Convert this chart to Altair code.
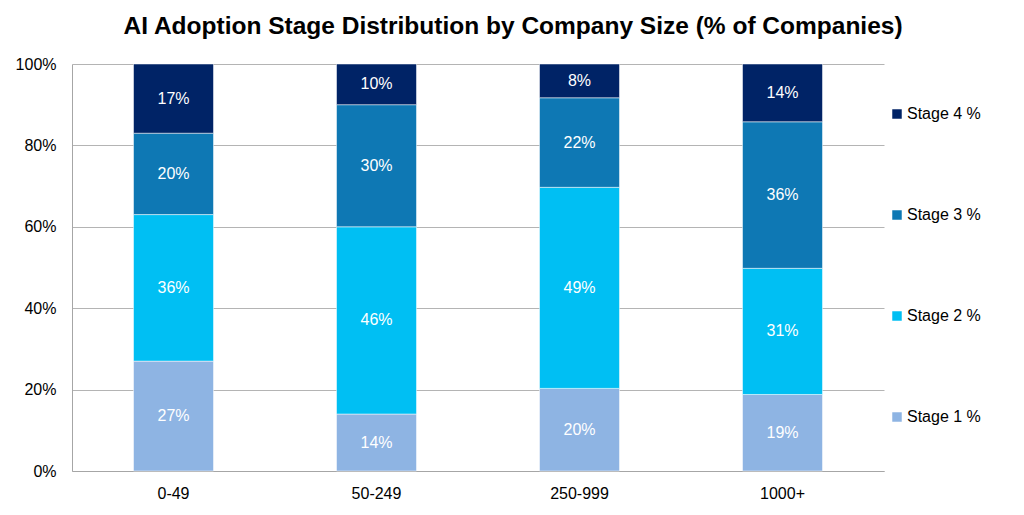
import altair as alt
import pandas as pd

sizes = ["0-49", "50-249", "250-999", "1000+"]
stages = ["Stage 1 %", "Stage 2 %", "Stage 3 %", "Stage 4 %"]
stage1 = [27, 14, 20.3, 18.8]
stage2 = [36, 46, 49.4, 31.0]
stage3 = [20, 30, 22.0, 36.0]
stage4 = [17, 10, 8.3, 14.2]
colors = ["#8EB4E3", "#00BFF3", "#0E78B4", "#002366"]

rows = []
for i, s in enumerate(sizes):
    for j, (st, vals) in enumerate(zip(stages, [stage1, stage2, stage3, stage4])):
        rows.append({"size": s, "stage": st, "idx": j, "value": vals[i]})
df = pd.DataFrame(rows)

base = alt.Chart(df).transform_stack(
    stack="value", groupby=["size"], sort=[alt.SortField("idx")], as_=["v0", "v1"]
).transform_calculate(
    mid="(datum.v0 + datum.v1) / 2 / 100",
    y0="datum.v0 / 100",
    y1="datum.v1 / 100",
    label="format(round(datum.value), 'd') + '%'",
)

xenc = alt.X(
    "size:N", sort=sizes, title=None,
    scale=alt.Scale(paddingInner=0.606, paddingOuter=0.303),
    axis=alt.Axis(labelAngle=0, labelFontSize=16, labelColor="#000000", labelFont="Liberation Sans",
                  ticks=False, domainColor="#A6A6A6", labelPadding=14, grid=False),
)

bars = base.mark_bar(stroke="white", strokeWidth=0.5).encode(
    x=xenc,
    y=alt.Y("y0:Q", title=None, scale=alt.Scale(domain=[0, 1]),
            axis=alt.Axis(format=".0%", values=[0, 0.2, 0.4, 0.6, 0.8, 1.0], labelFontSize=16,
                          labelColor="#000000", labelFont="Liberation Sans", ticks=False,
                          domainColor="#A6A6A6", gridColor="#B4B4B4", labelPadding=16)),
    y2="y1:Q",
    color=alt.Color("stage:N", scale=alt.Scale(domain=stages[::-1], range=colors[::-1]),
                    legend=alt.Legend(title=None, orient="none", legendX=817, legendY=42,
                                      symbolType="square", symbolSize=90, symbolStrokeWidth=0,
                                      labelFontSize=16, labelFont="Liberation Sans",
                                      labelColor="#000000", rowPadding=85, labelOffset=2)),
)

labels = base.mark_text(color="white", fontSize=16, font="Liberation Sans").encode(
    x=alt.X("size:N", sort=sizes),
    y=alt.Y("mid:Q"),
    text="label:N",
)

chart = (bars + labels).properties(
    width=812, height=407,
    title=alt.TitleParams("AI Adoption Stage Distribution by Company Size (% of Companies)",
                          fontSize=24.5, font="Liberation Sans", fontWeight="bold", color="#000000",
                          anchor="middle", frame="bounds", offset=17, dx=15),
    padding={"left": 7, "top": 5, "right": 5, "bottom": 5},
).configure_view(stroke=None).configure_axis(gridWidth=1)

chart.save("out.html", embed_options={"renderer": "svg", "actions": False})
